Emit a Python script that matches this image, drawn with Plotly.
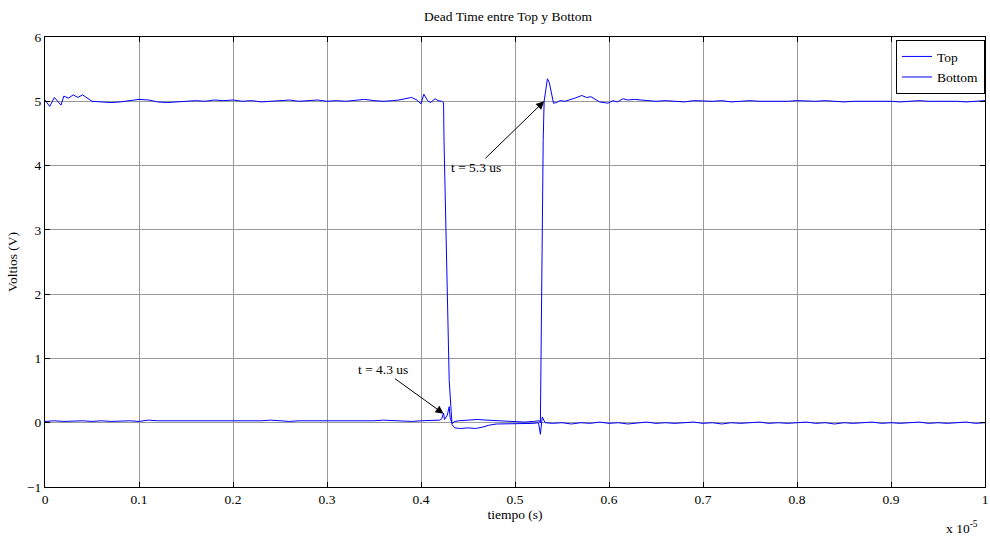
import plotly.graph_objects as go

# ---- data (time in microseconds, voltage in V) ----
t_top = [0.00, 0.05, 0.10, 0.17, 0.20, 0.25, 0.30, 0.35, 0.40, 0.45,
         0.5, 0.6, 0.7, 0.8, 0.9, 1.0, 1.1, 1.2, 1.3, 1.4, 1.5, 1.6, 1.7, 1.8, 1.9,
         2.0, 2.1, 2.2, 2.3, 2.4, 2.5, 2.6, 2.7, 2.8, 2.9, 3.0, 3.1, 3.2, 3.3, 3.4,
         3.5, 3.6, 3.7,
         3.765, 3.90, 3.955, 4.00, 4.03, 4.07, 4.10, 4.15, 4.18, 4.22, 4.24,
         4.245, 4.26, 4.28, 4.30, 4.32, 4.33, 4.36, 4.42, 4.50, 4.58, 4.65, 4.72,
         4.80, 4.90, 5.00, 5.10, 5.20, 5.25, 5.27, 5.29, 5.32,
         5.4, 5.5, 5.6, 5.7, 5.8, 5.9, 6.0, 6.1, 6.2, 6.3, 6.4, 6.5, 6.6, 6.7, 6.8,
         6.9, 7.0, 7.1, 7.2, 7.3, 7.4, 7.5, 7.6, 7.7, 7.8, 7.9, 8.0, 8.1, 8.2, 8.3,
         8.4, 8.5, 8.6, 8.7, 8.8, 8.9, 9.0, 9.1, 9.2, 9.3, 9.4, 9.5, 9.6, 9.7, 9.8,
         9.9, 10.0]
v_top = [5.02, 4.92, 5.06, 4.94, 5.08, 5.05, 5.10, 5.06, 5.10, 5.05,
         5.00, 4.99, 4.98, 4.99, 5.01, 5.03, 5.02, 4.99, 4.98, 4.99, 5.00, 5.01, 5.00, 5.02, 5.01,
         5.02, 5.00, 5.01, 4.99, 5.00, 5.01, 5.02, 5.00, 5.01, 5.02, 5.00, 5.01, 5.00, 5.02, 5.03,
         5.01, 5.00, 5.01,
         5.02, 5.06, 5.02, 4.96, 5.11, 5.01, 4.98, 5.04, 5.01, 5.00, 4.98,
         4.39, 3.45, 1.90, 0.66, 0.20, -0.03, -0.08, -0.09, -0.08, -0.09, -0.07, -0.04,
         -0.02, -0.02, -0.01, -0.02, -0.01, 0.00, -0.18, 0.09, 0.00,
         -0.01, 0.00, -0.02, 0.00, -0.01, 0.01, -0.01, 0.00, -0.02, 0.00, 0.01, -0.01, 0.00, -0.01, 0.00,
         0.01, -0.01, 0.00, -0.02, 0.00, -0.01, 0.00, 0.01, -0.01, 0.00, -0.01, 0.00, 0.01, -0.01, 0.00,
         -0.02, 0.00, -0.01, 0.00, 0.01, -0.01, 0.00, -0.01, 0.00, 0.01, -0.01, 0.00, -0.01, 0.00, 0.01,
         -0.01, 0.00]

t_bottom = [0.0, 0.1, 0.2, 0.3, 0.4, 0.5, 0.6, 0.7, 0.8, 0.9, 1.0, 1.1, 1.2, 1.3, 1.4,
            1.5, 1.6, 1.7, 1.8, 1.9, 2.0, 2.1, 2.2, 2.3, 2.4, 2.5, 2.6, 2.7, 2.8, 2.9,
            3.0, 3.1, 3.2, 3.3, 3.4, 3.5, 3.6, 3.7, 3.8, 3.9, 4.0, 4.1,
            4.20, 4.22, 4.24, 4.25, 4.28, 4.30, 4.31, 4.33, 4.36, 4.40, 4.50, 4.60,
            4.70, 4.80, 4.90, 5.00, 5.10, 5.20, 5.26, 5.27,
            5.28, 5.29, 5.30, 5.31, 5.33, 5.345, 5.365, 5.39, 5.41, 5.44, 5.48, 5.53,
            5.585, 5.64, 5.71, 5.76, 5.81, 5.85, 5.90, 5.99, 6.04, 6.09, 6.15, 6.20,
            6.27, 6.34, 6.40,
            6.5, 6.6, 6.7, 6.8, 6.9, 7.0, 7.1, 7.2, 7.3, 7.4, 7.5, 7.6, 7.7, 7.8, 7.9,
            8.0, 8.1, 8.2, 8.3, 8.4, 8.5, 8.6, 8.7, 8.8, 8.9, 9.0, 9.1, 9.2, 9.3, 9.4,
            9.5, 9.6, 9.7, 9.8, 9.9, 10.0]
v_bottom = [0.02, 0.03, 0.02, 0.03, 0.03, 0.02, 0.03, 0.02, 0.03, 0.03, 0.02, 0.04, 0.03, 0.03, 0.02,
            0.03, 0.02, 0.03, 0.03, 0.02, 0.03, 0.03, 0.02, 0.03, 0.04, 0.03, 0.02, 0.03, 0.03, 0.02,
            0.03, 0.02, 0.03, 0.03, 0.02, 0.03, 0.04, 0.03, 0.03, 0.02, 0.03, 0.04,
            0.04, 0.06, 0.15, 0.05, 0.12, 0.25, 0.08, -0.01, 0.02, 0.03, 0.04, 0.05,
            0.04, 0.03, 0.02, 0.01, 0.01, 0.02, 0.03, 0.00,
            1.90, 3.46, 4.39, 5.00, 5.24, 5.35, 5.29, 5.08, 4.97, 4.98, 5.01, 5.00,
            5.02, 5.05, 5.09, 5.06, 5.07, 5.04, 4.99, 4.97, 5.01, 4.99, 5.04, 5.02,
            5.03, 5.02, 5.01,
            5.00, 5.01, 5.00, 4.99, 5.01, 5.00, 5.00, 5.01, 4.99, 5.00, 5.01, 5.00, 5.00, 4.99, 5.00,
            5.01, 5.00, 5.00, 5.01, 5.00, 4.99, 5.00, 5.00, 5.01, 5.00, 5.00, 4.99, 5.00, 5.01, 5.00,
            5.00, 5.01, 5.00, 4.99, 5.00, 5.01]

x_ticks_us = [0, 1, 2, 3, 4, 5, 6, 7, 8, 9, 10]
x_tick_labels = ["0", "0.1", "0.2", "0.3", "0.4", "0.5", "0.6", "0.7", "0.8", "0.9", "1"]
y_ticks = [-1, 0, 1, 2, 3, 4, 5, 6]

assert len(t_top) == len(v_top)
assert len(t_bottom) == len(v_bottom)


def to_s(us):
    return us / 1e6


FONT = "Liberation Serif"
FS = 13.5

fig = go.Figure()
fig.add_trace(go.Scatter(x=[to_s(t) for t in t_top], y=v_top, mode="lines", name="Top",
                         line=dict(color="#0000ff", width=1)))
fig.add_trace(go.Scatter(x=[to_s(t) for t in t_bottom], y=v_bottom, mode="lines", name="Bottom",
                         line=dict(color="#0000ff", width=1)))

axis_common = dict(showline=True, linecolor="black", linewidth=1, mirror="ticks",
                   ticks="inside", ticklen=5, tickcolor="black", showgrid=True,
                   gridcolor="#9a9a9a", gridwidth=1, zeroline=False,
                   ticklabeloverflow="allow",
                   tickfont=dict(family=FONT, size=FS, color="black"))

fig.update_xaxes(range=[to_s(0), to_s(10)], tickvals=[to_s(v) for v in x_ticks_us],
                 ticktext=x_tick_labels,
                 title=dict(text="tiempo (s)", font=dict(family=FONT, size=FS, color="black"),
                            standoff=2),
                 **axis_common)
fig.update_yaxes(range=[-1, 6], tickvals=y_ticks,
                 title=dict(text="Voltios (V)", font=dict(family=FONT, size=FS, color="black"),
                            standoff=6),
                 **axis_common)

fig.add_annotation(x=to_s(5.31), y=5.0, ax=-68, ay=66, text="t = 5.3 us", showarrow=True,
                   arrowhead=2, arrowsize=1.6, arrowwidth=1, arrowcolor="black",
                   font=dict(family=FONT, size=FS, color="black"))
fig.add_annotation(x=to_s(4.24), y=0.14, ax=-61, ay=-44, text="t = 4.3 us", showarrow=True,
                   arrowhead=2, arrowsize=1.6, arrowwidth=1, arrowcolor="black",
                   font=dict(family=FONT, size=FS, color="black"))
fig.add_annotation(xref="paper", yref="paper", x=0.976, y=-0.089, text="x 10<sup>-5</sup>",
                   showarrow=False, xanchor="center", yanchor="middle",
                   font=dict(family=FONT, size=FS, color="black"))

fig.update_layout(
    width=990, height=536,
    margin=dict(l=45, r=2, t=37, b=49),
    paper_bgcolor="white", plot_bgcolor="white",
    title=dict(text="Dead Time entre Top y Bottom", xref="container", x=508 / 990,
               xanchor="center", yref="container", y=1 - 16 / 536, yanchor="middle",
               font=dict(family=FONT, size=FS, color="black")),
    legend=dict(x=1, y=0.993, xanchor="right", yanchor="top", bgcolor="white",
                bordercolor="black", borderwidth=1,
                font=dict(family=FONT, size=FS, color="black")),
    showlegend=True,
)

fig.write_html(
    "out.html",
    config={"displayModeBar": False},
    post_script="document.body.style.margin='0';document.body.style.padding='0';"
                "document.documentElement.style.overflow='hidden';",
)
